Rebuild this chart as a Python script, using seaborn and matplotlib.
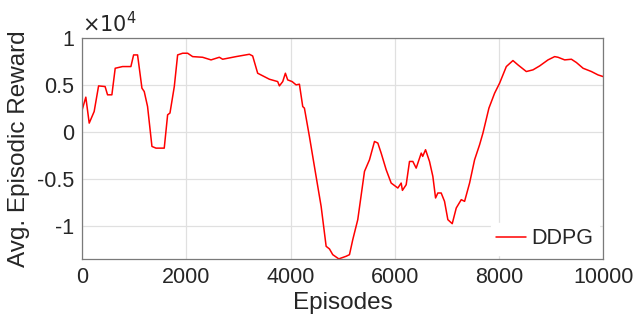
import numpy as np
import pandas as pd
import seaborn as sns
import matplotlib
matplotlib.use("Agg")
import matplotlib.pyplot as plt

episodes = [0, 70, 135, 230, 315, 440, 487, 570, 634, 775, 935, 987, 1063, 1147, 1191, 1255,
            1339, 1416, 1575, 1640, 1685, 1768, 1832, 1928, 2024, 2120, 2311, 2473, 2632, 2696,
            2953, 3209, 3272, 3368, 3593, 3752, 3785, 3849, 3900, 3944, 4029, 4105, 4169, 4233,
            4265, 4361, 4457, 4586, 4682, 4746, 4809, 4925, 5066, 5130, 5193, 5289, 5418, 5514,
            5610, 5674, 5738, 5834, 5930, 6058, 6122, 6146, 6218, 6282, 6346, 6410, 6507, 6535,
            6590, 6666, 6730, 6782, 6826, 6890, 6954, 7018, 7102, 7179, 7275, 7339, 7435, 7531,
            7627, 7691, 7806, 7915, 8011, 8140, 8267, 8363, 8524, 8652, 8780, 8940, 9068, 9132,
            9260, 9389, 9485, 9613, 9773, 9900, 10000]
reward = [2340, 3690, 925, 2160, 4890, 4820, 3940, 3940, 6770, 6950, 6950, 8190, 8190, 4650, 4290, 2690,
          -1560, -1740, -1740, 1810, 2000, 4820, 8190, 8370, 8370, 8010, 7940, 7660, 7940, 7730,
          8010, 8260, 8080, 6240, 5600, 5350, 4890, 5350, 6240, 5530, 5350, 5000, 5070, 2690,
          2520, -500, -3690, -7950, -12200, -12480, -13090, -13540, -13260, -13090, -11490, -9360, -4220, -2980,
          -1030, -1200, -2270, -4040, -5460, -5990, -5460, -6240, -5640, -3160, -3160, -3870, -2270, -2620,
          -1910, -3160, -4750, -7050, -6520, -6520, -7410, -9360, -9790, -8120, -7230, -7410, -5460, -2980,
          -1380, -140, 2520, 4110, 5180, 6950, 7590, 7130, 6420, 6600, 7020, 7660, 8010, 7940,
          7660, 7730, 7380, 6770, 6420, 6060, 5880]

xticks = [0, 2000, 4000, 6000, 8000, 10000]
xtick_labels = ["0", "2000", "4000", "6000", "8000", "10000"]
yticks = [-10000, -5000, 0, 5000, 10000]
ytick_labels = ["-1", "-0.5", "0", "0.5", "1"]

df = pd.DataFrame({"Episodes": episodes, "Reward": reward})

sns.set_theme(style="whitegrid")
plt.rcParams["font.family"] = ["Liberation Sans", "DejaVu Sans"]

fig = plt.figure(figsize=(6.37, 3.27), dpi=100)
ax = fig.add_axes([0.129, 0.208, 0.818, 0.676])

sns.lineplot(data=df, x="Episodes", y="Reward", ax=ax, color="#ff0000", linewidth=1.1, label="DDPG")

ax.set_xlim(0, 10000)
ax.set_ylim(-13550, 10000)
ax.set_xticks(xticks)
ax.set_xticklabels(xtick_labels)
ax.set_yticks(yticks)
ax.set_yticklabels(ytick_labels)
ax.tick_params(axis="both", labelsize=15.5, colors="#262626", direction="in", length=4, width=0.8, pad=6)
ax.grid(True, color="#e0e0e0", linewidth=0.9)
for s in ax.spines.values():
    s.set_visible(True)
    s.set_color("#7a7a7a")
    s.set_linewidth(0.9)
ax.set_xlabel("Episodes", fontsize=17.5, color="#262626", labelpad=3)
ax.set_ylabel("Avg. Episodic Reward", fontsize=17.5, color="#262626", labelpad=5)
ax.text(0.0, 1.01, r"$\times10^{4}$", transform=ax.transAxes, fontsize=15, color="#262626",
        ha="left", va="bottom", math_fontfamily="dejavusans")

leg = ax.legend(loc="lower right", fontsize=15.5, frameon=True, facecolor="white", edgecolor="white",
                framealpha=1, handlelength=1.4, handletextpad=0.25, borderaxespad=0.2, borderpad=0.25)
for t in leg.get_texts():
    t.set_color("#262626")

fig.savefig("out.png", dpi=100)
